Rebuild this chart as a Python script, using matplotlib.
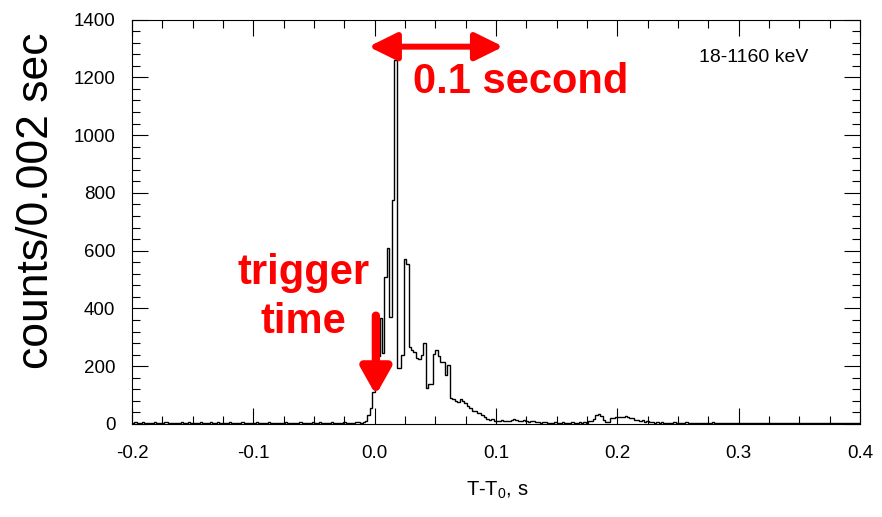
import numpy as np
import matplotlib
matplotlib.use('Agg')
import matplotlib.pyplot as plt
from matplotlib.ticker import MultipleLocator, FormatStrFormatter

# histogram settings: 0.002 s bins from T-T0 = -0.2 s to 0.4 s
t_start = -0.2
bin_width = 0.002

# counts per bin
background_before = [
    5, 8, 3, 4, 6, 2, 5, 3, 4, 7,
    3, 5, 2, 6, 8, 4, 3, 5, 2, 4,
    6, 3, 5, 7, 4, 2, 5, 3, 6, 4,
    3, 5, 8, 4, 2, 6, 3, 5, 4, 3,
    6, 2, 4, 5, 3, 7, 4, 2, 5, 3,
    4, 6, 3, 5, 2, 4, 8, 5, 3, 4,
    2, 5, 3, 6, 4, 3, 5, 2, 4, 6,
    3, 4, 5, 2, 6, 3, 4, 7, 3, 5,
    2, 4, 6, 3, 5, 4, 2, 6, 3, 5,
    4, 3, 6, 8, 5, 7,
]
burst = [
    10, 30, 55, 112, 150, 235, 366, 246, 510, 608,
    371, 775, 1260, 193, 193, 240, 570, 555, 265, 255,
    248, 230, 225, 240, 280, 125, 140, 140, 242, 256,
    235, 216, 216, 168, 204, 89, 86, 80, 77, 87,
    80, 72, 62, 55, 45, 46, 38, 38, 30, 25,
    18, 14, 18, 10,
]
tail = [
    12, 10, 14, 12, 10, 12, 14, 17, 14, 10,
    12, 14, 10, 8, 10, 12, 8, 6, 5, 8,
    6, 4, 5, 3, 6, 4, 5, 7, 3, 5,
    4, 6, 3, 5, 8, 4, 6, 5, 10, 12,
    18, 31, 33, 28, 14, 8, 8, 20, 22, 25,
    25, 25, 24, 26, 25, 20, 20, 14, 14, 12,
    14, 8, 12, 6, 8, 5, 7, 4, 6, 5,
    3, 5, 4, 6, 3, 4, 5, 3, 6, 4,
    2, 4, 5, 3, 4, 2, 5, 3, 4, 6,
    3, 2, 4, 5, 3, 4, 2, 3, 5, 4,
    3, 4, 2, 5, 3, 2, 4, 3, 5, 2,
    4, 3, 2, 4, 5, 3, 2, 4, 3, 2,
    3, 5, 2, 4, 3, 2, 4, 3, 5, 3,
    2, 4, 3, 2, 5, 3, 4, 2, 3, 4,
    3, 2, 4, 3, 5, 2, 3, 4, 2, 5,
]

energy_band = '18-1160 keV'
red = '#ff0000'

plt.rcParams['font.family'] = ['Liberation Sans', 'DejaVu Sans']

counts = np.array(background_before + burst + tail)
edges = t_start + bin_width * np.arange(len(counts) + 1)

fig = plt.figure(figsize=(8.82, 5.17), dpi=100)
ax = fig.add_axes([132 / 882, 1 - 424 / 517, 728 / 882, 404.5 / 517])

ax.stairs(counts, edges, color='black', lw=1.0)

ax.set_xlim(-0.2, 0.4)
ax.set_ylim(0, 1400)
ax.xaxis.set_major_locator(MultipleLocator(0.1))
ax.xaxis.set_minor_locator(MultipleLocator(0.025))
ax.xaxis.set_major_formatter(FormatStrFormatter('%.1f'))
ax.yaxis.set_major_locator(MultipleLocator(200))
ax.yaxis.set_minor_locator(MultipleLocator(40))
ax.tick_params(which='both', direction='in', top=True, right=True,
               labelsize=13.5, width=0.8)
ax.tick_params(which='major', length=11.5)
ax.tick_params(which='minor', length=5.8)
ax.tick_params(axis='x', pad=15)
ax.tick_params(axis='y', pad=12)
for s in ax.spines.values():
    s.set_linewidth(0.8)

ax.text(0.854, 0.905, energy_band, transform=ax.transAxes,
        fontsize=14, ha='center', va='center')

# red annotations
ax.annotate('', xy=(0.106, 1306), xytext=(-0.005, 1306),
            arrowprops=dict(arrowstyle='<|-|>,head_length=0.85,head_width=0.42',
                            mutation_scale=20, lw=4.3, color=red,
                            shrinkA=0, shrinkB=0))
ax.text(0.0316, 1145, '0.1 second', color=red, fontsize=30,
        fontweight='bold', ha='left', va='baseline')

ax.annotate('', xy=(0.001, 100), xytext=(0.001, 375),
            arrowprops=dict(arrowstyle='-|>,head_length=0.8,head_width=0.45',
                            mutation_scale=20, lw=6, color=red,
                            shrinkA=0, shrinkB=0))
ax.text(-0.0587, 484, 'trigger', color=red, fontsize=30,
        fontweight='bold', ha='center', va='baseline')
ax.text(-0.0587, 315, 'time', color=red, fontsize=30,
        fontweight='bold', ha='center', va='baseline')

fig.text(37 / 882, 1 - 201 / 517, 'counts/0.002 sec', rotation=90,
         fontsize=32, ha='center', va='center')
fig.text(497 / 882, 1 - 490 / 517, r'T-T$_\mathregular{0}$, s',
         fontsize=14.5, ha='center', va='center')

fig.savefig('out.png', dpi=100)
